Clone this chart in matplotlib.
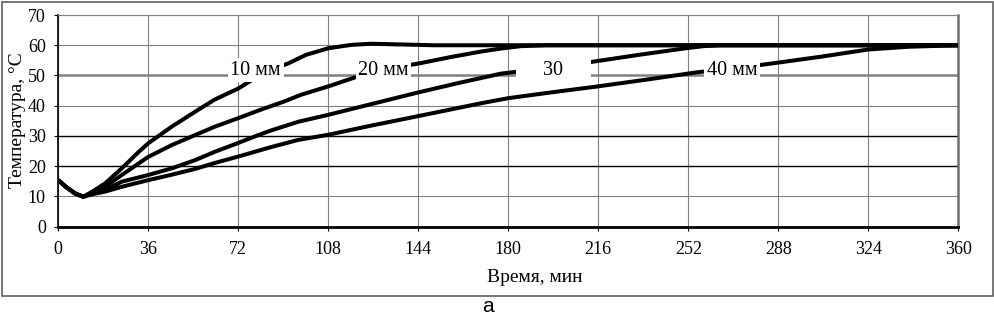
import matplotlib
matplotlib.use("Agg")
import matplotlib.pyplot as plt
from matplotlib.patches import Rectangle

plt.rcParams['font.family'] = ['Liberation Serif', 'DejaVu Serif']

# time (min) and temperature (°C)
t_10 = [0, 3, 6.7, 10, 14, 18.7, 25.4, 32, 36, 45.4, 54.7, 62.7, 72, 80, 86, 92, 99, 108, 117, 125, 135, 150, 360]
T_10 = [15.4, 13.2, 11.0, 9.9, 11.8, 14.3, 19.3, 24.6, 27.6, 33.1, 38.0, 42.1, 45.7, 49.8, 52.2, 54.0, 56.8, 59.0, 60.1, 60.5, 60.3, 60.0, 60.0]

t_20 = [0, 3, 6.7, 10, 14, 18.7, 25.4, 36, 45.4, 54.7, 62.7, 72, 81, 90, 97, 108, 122, 133, 145, 157, 169, 177, 185, 195, 360]
T_20 = [15.4, 13.2, 11.0, 9.9, 11.4, 13.2, 17.1, 23.1, 27.0, 30.3, 33.1, 35.9, 38.7, 41.3, 43.6, 46.4, 50.3, 52.4, 54.1, 56.1, 57.9, 58.9, 59.7, 60.0, 60.0]

t_30 = [0, 3, 6.7, 10, 14, 18.7, 25.4, 36, 45.4, 54.7, 62.7, 72, 80, 85, 96, 108, 125, 143, 160, 177, 185, 211, 232, 251, 258, 265, 360]
T_30 = [15.4, 13.2, 11.0, 9.9, 11.1, 12.1, 14.9, 17.1, 19.3, 22.0, 24.8, 27.7, 30.3, 31.8, 34.7, 37.0, 40.5, 44.2, 47.5, 50.6, 51.4, 54.2, 56.8, 59.0, 59.7, 60.0, 60.0]

t_40 = [0, 3, 6.7, 10, 14, 18.7, 25.4, 36, 45.4, 54.7, 62.7, 72, 85, 96, 108, 125, 143, 169, 180, 198, 215, 235, 255, 283, 305, 324, 340, 360]
T_40 = [15.4, 13.2, 11.0, 9.9, 10.8, 11.6, 13.2, 15.4, 17.2, 19.1, 21.1, 23.2, 26.3, 28.7, 30.4, 33.4, 36.4, 40.8, 42.5, 44.5, 46.3, 48.6, 51.0, 53.7, 56.2, 58.6, 59.5, 60.0]

labels = ['10 мм', '20 мм', '     30     ', '40 мм']
label_t = [79, 130, 198, 269.5]
label_T = [50.3, 50.3, 50.3, 50.3]

x_ticks = list(range(0, 361, 36))
y_ticks = list(range(0, 71, 10))

fig = plt.figure(figsize=(9.95, 3.19), dpi=100)
ax = fig.add_axes([58.3 / 995, (319 - 226.7) / 319, 900 / 995, (226.7 - 15) / 319])

for t, T in [(t_10, T_10), (t_20, T_20), (t_30, T_30), (t_40, T_40)]:
    ax.plot(t, T, color='black', lw=2.9, solid_joinstyle='round', solid_capstyle='butt', zorder=3)

for s, t, T in zip(labels, label_t, label_T):
    ax.text(t, T, s, ha='center', va='baseline', fontsize=14.5, zorder=5,
            bbox=dict(boxstyle='square,pad=0.12', fc='white', ec='none'))

ax.set_xlim(0, 360)
ax.set_ylim(0, 70)
ax.set_xticks(x_ticks)
ax.set_yticks(y_ticks)
ax.tick_params(axis='both', direction='out', length=3, width=0.8, labelsize=13)
ax.tick_params(axis='x', pad=7)
ax.tick_params(axis='y', pad=6)

ax.set_axisbelow(True)
ax.grid(True, color='#808080', lw=0.8)
for val, gl in zip(y_ticks, ax.get_ygridlines()):
    if val in (20, 30):
        gl.set_color('black')
        gl.set_linewidth(1.0)
    elif val == 50:
        gl.set_linewidth(1.8)

ax.spines['left'].set_color('black')
ax.spines['left'].set_linewidth(1.2)
ax.spines['bottom'].set_color('black')
ax.spines['bottom'].set_linewidth(2.0)
ax.spines['right'].set_color('#707070')
ax.spines['right'].set_linewidth(1.8)
ax.spines['top'].set_color('#808080')
ax.spines['top'].set_linewidth(0.8)

fig.text(17.5 / 995, 1 - 120 / 319, 'Температура, °С', rotation=90, ha='center', va='center', fontsize=14)
fig.text(535 / 995, 1 - 277 / 319, 'Время, мин', ha='center', va='center', fontsize=14)
fig.text(488 / 995, 1 - 312 / 319, 'а', ha='center', va='baseline', fontsize=15,
         family=['Liberation Sans', 'DejaVu Sans'])

fig.patches.append(Rectangle((2 / 995, 1 - 296 / 319), 991 / 995, 294 / 319,
                             transform=fig.transFigure, fill=False, ec='#606060', lw=1.2))

fig.savefig('out.png', dpi=100)
